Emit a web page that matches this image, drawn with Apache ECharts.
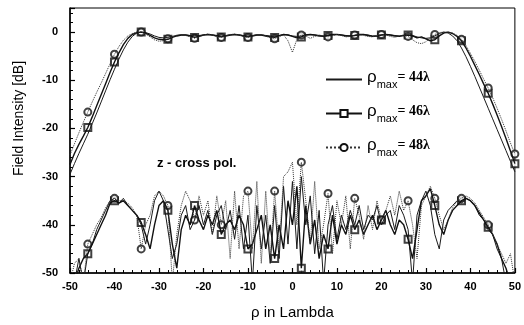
<!DOCTYPE html>
<html lang="en">
<head>
    <meta charset="UTF-8">
    <title>Field Intensity</title>
    <script src="https://cdn.jsdelivr.net/npm/echarts@6/dist/echarts.min.js"></script>
    <style>
        body { margin: 0; background: #fff; }
        #chart { width: 524px; height: 325px; }
    </style>
</head>
<body>
<div id="chart"></div>

<script type="text/javascript">
    // sampling grid, rho in lambda (-50 ... 50, step 1)
    var rho = [];
    for (var k = -50; k <= 50; k++) rho.push(k);

    // where the squares / circles sit on the curves
    var markerRho = [-46, -40, -34, -28, -22, -16, -10, -4, 2, 8, 14, 20, 26, 32, 38, 44, 50];

    // co-polar field [dB]
    var co44 = [-29.5, -27.3, -25.2, -23.2, -21.2, -19, -16.8, -14.5, -12.2, -9.9,
        -7.7, -5.6, -3.7, -2.1, -0.9, -0.2, 0, -0.1, -0.4, -0.8,
        -1.1, -1.2, -1.1, -0.9, -0.7, -0.6, -0.6, -0.7, -0.8, -0.7,
        -0.6, -0.5, -0.6, -0.7, -0.8, -0.7, -0.6, -0.5, -0.6, -0.7,
        -0.8, -0.7, -0.6, -0.6, -0.7, -0.8, -0.9, -0.7, -0.5, -0.6,
        -0.8, -0.9, -0.8, -0.6, -0.5, -0.6, -0.7, -0.8, -0.7, -0.6,
        -0.5, -0.6, -0.7, -0.8, -0.7, -0.6, -0.5, -0.6, -0.8, -0.8,
        -0.6, -0.5, -0.6, -0.7, -0.8, -0.7, -0.6, -0.7, -1.0, -1.2,
        -1.3, -1.2, -0.8, -0.3, 0, -0.2, -0.8, -1.8, -3.3, -5.1,
        -7.1, -9.2, -11.4, -13.6, -15.8, -18, -20.2, -22.4, -24.6, -26.8,
        -29];
    var co46 = [-27.5, -25.2, -23.3, -21.6, -19.8, -17.6, -15.3, -13, -10.7, -8.4,
        -6.2, -4.3, -2.6, -1.3, -0.5, -0.1, 0, -0.2, -0.7, -1.2,
        -1.5, -1.6, -1.5, -1.1, -0.8, -0.6, -0.6, -0.8, -1.1, -0.9,
        -0.6, -0.5, -0.6, -0.8, -1.0, -0.8, -0.6, -0.5, -0.6, -0.8,
        -1.0, -0.8, -0.6, -0.6, -0.8, -1.0, -1.1, -0.8, -0.5, -0.6,
        -0.9, -1.2, -1.0, -0.6, -0.5, -0.6, -0.8, -0.9, -0.7, -0.5,
        -0.5, -0.6, -0.8, -0.8, -0.7, -0.5, -0.5, -0.7, -0.9, -0.8,
        -0.6, -0.5, -0.6, -0.8, -0.9, -0.7, -0.6, -0.8, -1.2, -1.0,
        -1.4, -1.8, -1.6, -0.8, -0.2, 0, -0.3, -0.9, -1.8, -3.3,
        -5.0, -6.9, -8.8, -10.8, -12.7, -14.9, -17.2, -19.6, -22.1, -24.7,
        -27.3];
    var co48 = [-25.5, -23.2, -20.9, -18.7, -16.6, -14.5, -12.5, -10.6, -8.6, -6.6,
        -4.6, -3, -1.7, -0.8, -0.3, 0, 0, -0.4, -1.0, -1.6,
        -1.9, -1.8, -1.4, -1.0, -0.6, -0.5, -0.7, -1.0, -1.3, -1.0,
        -0.6, -0.4, -0.6, -0.9, -1.1, -0.8, -0.5, -0.4, -0.6, -0.9,
        -1.1, -0.8, -0.5, -0.5, -0.8, -1.2, -1.4, -0.9, -0.6, -1.8,
        -4.2, -1.5, -0.6, -0.8, -1.3, -0.9, -0.6, -0.8, -1.0, -0.7,
        -0.5, -0.7, -1.0, -0.9, -0.6, -0.5, -0.7, -0.9, -1.0, -0.7,
        -0.5, -0.6, -0.9, -1.1, -0.8, -0.6, -0.9, -1.6, -2.2, -2.4,
        -2.0, -1.2, -0.5, -0.1, 0, 0, -0.2, -0.7, -1.5, -2.8,
        -4.4, -6.1, -7.9, -9.8, -11.6, -13.6, -15.8, -18.1, -20.5, -23,
        -25.3];

    // z - cross polar field [dB]
    var cross44 = [-52, -52, -47, -52, -46, -44, -41, -39, -37, -35,
        -34.5, -35.5, -34.5, -36, -37, -38, -40, -44, -40, -35,
        -33, -35, -41, -47, -44, -38, -36, -41, -39, -36,
        -40, -37, -42, -38, -36, -41, -37, -43, -36, -45,
        -38, -52, -36, -45, -38, -48, -36, -47, -32, -44,
        -31, -45, -30, -40, -34, -46, -37, -52, -40, -36,
        -43, -38, -41, -37, -40, -36, -41, -38, -39, -36,
        -40, -38, -37, -41, -36, -38, -41, -52, -38, -35,
        -33, -36, -42, -45, -39, -37, -36, -35, -35.5, -34.5,
        -35, -36, -38, -39, -41, -42, -45, -47, -52, -52,
        -52];
    var cross46 = [-52, -52, -49, -47, -46, -44, -42, -40, -38, -35.5,
        -35, -35.5, -35, -36, -37, -38, -39.5, -42, -45, -40,
        -36, -35, -37, -44, -49, -41, -38, -40, -36, -39,
        -41, -38, -40, -37, -42, -40, -39, -41, -38, -40,
        -45, -44, -41, -38, -45, -40, -47, -40, -45, -35,
        -40, -32, -49, -36, -44, -39, -47, -42, -45, -38,
        -44, -40, -42, -38, -41, -39, -42, -40, -38, -41,
        -39, -37, -40, -42, -39, -40, -43, -47, -41, -35,
        -34, -32.5, -36, -40, -42, -39, -37, -36, -35, -34.5,
        -35, -36, -37.5, -39, -40.5, -42, -44, -47, -49, -52,
        -52];
    var cross48 = [-52, -48, -47, -52, -44, -42, -40, -38.5, -36.5, -35,
        -34.5, -35, -35, -35.5, -36.5, -38, -45, -40, -38, -34,
        -33, -34, -36, -52, -42, -36, -33, -35, -39, -34,
        -38, -35, -42, -34, -40, -35, -47, -33, -45, -34,
        -33, -45, -31, -48, -33, -47, -33, -45, -30, -29,
        -27, -40, -27, -35, -44, -31, -45, -40, -33.5, -46,
        -35, -40, -34, -45, -34.5, -38, -43, -36, -41, -35,
        -39, -37, -34, -38, -33, -37, -35, -40, -47, -36,
        -34, -32, -34.5, -38, -41, -39, -36.5, -35, -34.5, -34,
        -34.5, -35.5, -37, -38.5, -40, -42, -44, -46, -48, -46,
        -52];

    var xTicks = [-50, -40, -30, -20, -10, 0, 10, 20, 30, 40, 50];
    var yTicks = [-50, -40, -30, -20, -10, 0];

    var names = ['ρmax = 44λ', 'ρmax = 46λ', 'ρmax = 48λ'];

    function linePairs(values) {
        return rho.map(function (x, i) { return [x, values[i]]; });
    }
    function markerPairs(values) {
        return markerRho.map(function (x) { return [x, values[rho.indexOf(x)]]; });
    }

    var styles = [
        {symbol: 'line', width: 1, type: 'solid', color: '#1a1a1a'},
        {symbol: 'emptyRect', width: 1.4, type: 'solid', color: '#111'},
        {symbol: 'emptyCircle', width: 1, type: 'dotted', color: '#333'}
    ];
    var coData = [co44, co46, co48];
    var crossData = [cross44, cross46, cross48];

    var series = [];
    // lines first, so the legend takes its icon from them
    [coData, crossData].forEach(function (group) {
        group.forEach(function (vals, i) {
            var st = styles[i];
            series.push({
                name: names[i],
                type: 'line',
                data: linePairs(vals),
                symbol: st.symbol,
                symbolSize: 7,
                showSymbol: false,
                itemStyle: {color: '#111'},
                lineStyle: {color: st.color, width: st.width, type: st.type}
            });
        });
    });
    [coData, crossData].forEach(function (group) {
        group.forEach(function (vals, i) {
            var st = styles[i];
            if (i === 0) return;
            series.push({
                name: names[i],
                type: 'scatter',
                data: markerPairs(vals),
                symbol: st.symbol,
                symbolSize: 7,
                itemStyle: {color: '#111', borderWidth: 1}
            });
        });
    });

    var myChart = echarts.init(document.getElementById('chart'));
    var option = {
        animation: false,
        backgroundColor: '#fff',
        grid: {left: 70, right: 7, top: 8, bottom: 51, show: true, borderColor: '#000', borderWidth: 1},
        legend: {
            orient: 'vertical',
            left: 320,
            top: 64,
            itemGap: 13,
            itemWidth: 36,
            itemHeight: 9,
            data: names,
            formatter: function (name) {
                var n = name.split('= ')[1];
                return '{r|ρ}{s|max}{e|= ' + n + '}';
            },
            textStyle: {
                color: '#000',
                rich: {
                    r: {fontSize: 17, fontFamily: 'Liberation Sans', padding: [0, 0, 4, 0]},
                    s: {fontSize: 11, fontFamily: 'Liberation Sans', padding: [10, 0, 0, 0]},
                    e: {fontSize: 14, fontWeight: 'bold', fontFamily: 'Liberation Serif', padding: [0, 0, 4, 0]}
                }
            }
        },
        xAxis: {
            type: 'value',
            min: xTicks[0],
            max: xTicks[xTicks.length - 1],
            interval: 10,
            name: 'ρ in Lambda',
            nameLocation: 'middle',
            nameGap: 32,
            nameTextStyle: {fontSize: 15, color: '#000', fontFamily: 'Liberation Sans'},
            axisLine: {onZero: false, lineStyle: {color: '#000', width: 1.5}},
            axisTick: {inside: true, length: 5, lineStyle: {color: '#000', width: 1.2}},
            minorTick: {show: true, splitNumber: 5, length: 3, lineStyle: {color: '#000'}},
            splitLine: {show: false},
            axisLabel: {color: '#000', fontSize: 11, fontWeight: 'bold', fontFamily: 'Liberation Sans', margin: 8}
        },
        yAxis: {
            type: 'value',
            min: yTicks[0],
            max: 5,
            interval: 10,
            name: 'Field Intensity [dB]',
            nameLocation: 'middle',
            nameGap: 44,
            nameTextStyle: {fontSize: 14, color: '#000', fontFamily: 'Liberation Sans', padding: [0, 0, 0, 44]},
            axisLine: {onZero: false, lineStyle: {color: '#000', width: 1.5}},
            axisTick: {inside: true, length: 5, lineStyle: {color: '#000', width: 1.2}},
            minorTick: {show: true, splitNumber: 5, length: 3, lineStyle: {color: '#000'}},
            splitLine: {show: false},
            axisLabel: {color: '#000', fontSize: 11, fontWeight: 'bold', fontFamily: 'Liberation Sans', margin: 12, showMaxLabel: false,
                formatter: function (v) { return yTicks.indexOf(v) >= 0 ? String(v) : ''; }}
        },
        graphic: [{
            type: 'text',
            left: 157,
            top: 157,
            style: {text: 'z - cross pol.', fontSize: 13, fontWeight: 'bold', fontFamily: 'Liberation Sans', fill: '#000'}
        }],
        series: series
    };
    myChart.setOption(option);
</script>
</body>
</html>
